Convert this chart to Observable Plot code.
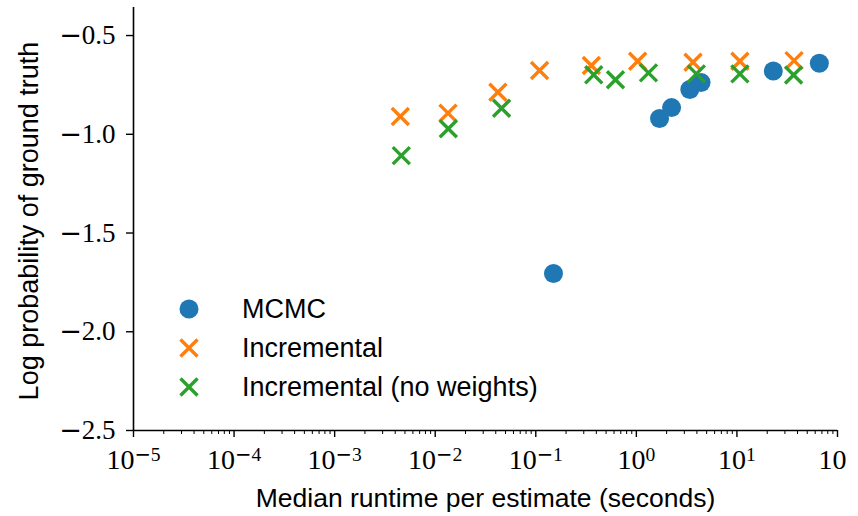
<!DOCTYPE html>
<html><head><meta charset="utf-8">
<script src="https://cdn.jsdelivr.net/npm/d3@7"></script>
<script src="https://cdn.jsdelivr.net/npm/@observablehq/plot@0.6"></script>
<style>
html,body{margin:0;padding:0;background:#fff;}
#wrap{position:relative;width:846px;height:516px;overflow:hidden;background:#fff;}
#wrap svg{max-width:none !important;}
#legend{position:absolute;left:0;top:0;}
</style></head><body><div id="wrap"></div>
<script>
// ---- data ----
const mcmcTime = [0.15, 1.7, 2.24, 3.4, 4.4, 23, 66];
const mcmcLogP = [-1.705, -0.92, -0.865, -0.773, -0.738, -0.68, -0.64];
const incTime = [0.0045, 0.0134, 0.042, 0.109, 0.357, 1.03, 3.66, 10.7, 37];
const incLogP = [-0.91, -0.893, -0.787, -0.677, -0.652, -0.630, -0.635, -0.630, -0.627];
const incNwTime = [0.0046, 0.0135, 0.0457, 0.377, 0.62, 1.32, 3.95, 10.7, 36.6];
const incNwLogP = [-1.108, -0.972, -0.868, -0.699, -0.724, -0.689, -0.694, -0.694, -0.70];
const seriesNames = ["MCMC", "Incremental", "Incremental (no weights)"];
const seriesColors = ["#1f77b4", "#ff7f0e", "#2ca02c"];
const xTickExponents = [-5, -4, -3, -2, -1, 0, 1, 2];
const yTicks = [-2.5, -2.0, -1.5, -1.0, -0.5];
const xDomain = [1e-5, 1e2];
const yDomain = [-2.5, -0.358];
const xLabel = "Median runtime per estimate (seconds)";
const yLabel = "Log probability of ground truth";

const toRows = (xs, ys) => xs.map((x, i) => ({x, y: ys[i]}));
const mcmc = toRows(mcmcTime, mcmcLogP);
const inc = toRows(incTime, incLogP);
const incNw = toRows(incNwTime, incNwLogP);

const majorTicks = xTickExponents.map(e => Math.pow(10, e));
const minorTicks = d3.scaleLog().domain(xDomain).ticks().filter(t => !majorTicks.some(m => Math.abs(m - t) / m < 1e-9));
const minus = "\u2212";
const yFmt = d => (d < 0 ? minus : "") + Math.abs(d).toFixed(1);

const sans = "'Liberation Sans', Arial, sans-serif";
const serif = "'Liberation Serif', 'Times New Roman', serif";
const minusFont = "'DejaVu Sans', sans-serif";

const chart = Plot.plot({
  width: 858, height: 516,
  marginLeft: 133, marginRight: 21, marginTop: 7, marginBottom: 86,
  x: {type: "log", domain: xDomain},
  y: {domain: yDomain},
  style: {fontFamily: serif, fontSize: "28px", color: "#000", background: "#fff", overflow: "visible", maxWidth: "none"},
  marks: [
    Plot.axisX({ticks: minorTicks, tickSize: 4, tickFormat: () => "", label: null, strokeWidth: 1}),
    Plot.axisX({ticks: majorTicks, tickSize: 7, tickPadding: 12, label: null, strokeWidth: 1.4,
      fontSize: 28, fontFamily: serif, tickFormat: d => "10^" + Math.round(Math.log10(d))}),
    Plot.axisY({ticks: yTicks, tickSize: 7, tickPadding: 11, label: null, strokeWidth: 1.4,
      fontSize: 27, fontFamily: serif, tickFormat: yFmt}),
    Plot.ruleX([xDomain[0]], {strokeWidth: 1.6, stroke: "#000"}),
    Plot.ruleY([yDomain[0]], {strokeWidth: 1.6, stroke: "#000"}),
    Plot.dot(mcmc, {x: "x", y: "y", r: 9.5, fill: seriesColors[0], stroke: "none"}),
    Plot.dot(inc, {x: "x", y: "y", symbol: "times", r: 7.8, stroke: seriesColors[1], strokeWidth: 3.4}),
    Plot.dot(incNw, {x: "x", y: "y", symbol: "times", r: 7.8, stroke: seriesColors[2], strokeWidth: 3.4}),
    Plot.text([xLabel], {frameAnchor: "bottom", dy: 68, lineAnchor: "middle", textAnchor: "middle", fontFamily: sans, fontSize: 26.5, fill: "#000"}),
    Plot.text([yLabel], {frameAnchor: "left", rotate: -90, dx: -104, dy: 2, lineAnchor: "middle", textAnchor: "middle", fontFamily: sans, fontSize: 27, fill: "#000"})
  ]
});

// superscripts on the log tick labels (TeX-like)
d3.select(chart).selectAll('g[aria-label="x-axis tick label"] text').each(function() {
  const t = d3.select(this);
  const s = t.text();
  if (!s.startsWith("10^")) return;
  const e = +s.slice(3);
  t.text("");
  t.append("tspan").text("10");
  const sup = t.append("tspan").attr("dy", "-0.45em").attr("font-size", "0.7em");
  if (e < 0) sup.append("tspan").attr("font-family", minusFont).text(minus);
  sup.append("tspan").text(Math.abs(e));
});
// wider TeX-style minus on y tick labels
d3.select(chart).selectAll('g[aria-label="y-axis tick label"] text').each(function() {
  const t = d3.select(this);
  const s = t.text();
  if (!s.startsWith(minus)) return;
  t.text("");
  t.append("tspan").attr("font-family", minusFont).text(minus);
  t.append("tspan").text(s.slice(1));
});

document.getElementById("wrap").appendChild(chart);

// legend
const leg = d3.select("#wrap").append("svg").attr("id", "legend").attr("width", 600).attr("height", 516)
  .style("font-family", sans).style("font-size", "27px");
const legendY = [309, 348, 387];
seriesNames.forEach((name, i) => {
  const g = leg.append("g").attr("transform", `translate(189,${legendY[i]})`);
  if (i === 0) {
    g.append("path").attr("d", d3.symbol(d3.symbolCircle, Math.PI * 9.5 * 9.5)()).attr("fill", seriesColors[i]);
  } else {
    g.append("path").attr("d", d3.symbol(d3.symbolTimes, Math.PI * 7.8 * 7.8)()).attr("fill", "none")
      .attr("stroke", seriesColors[i]).attr("stroke-width", 3.4);
  }
  leg.append("text").attr("x", 242).attr("y", legendY[i]).attr("dy", "0.35em").attr("fill", "#000").text(name);
});
</script>
</body></html>
